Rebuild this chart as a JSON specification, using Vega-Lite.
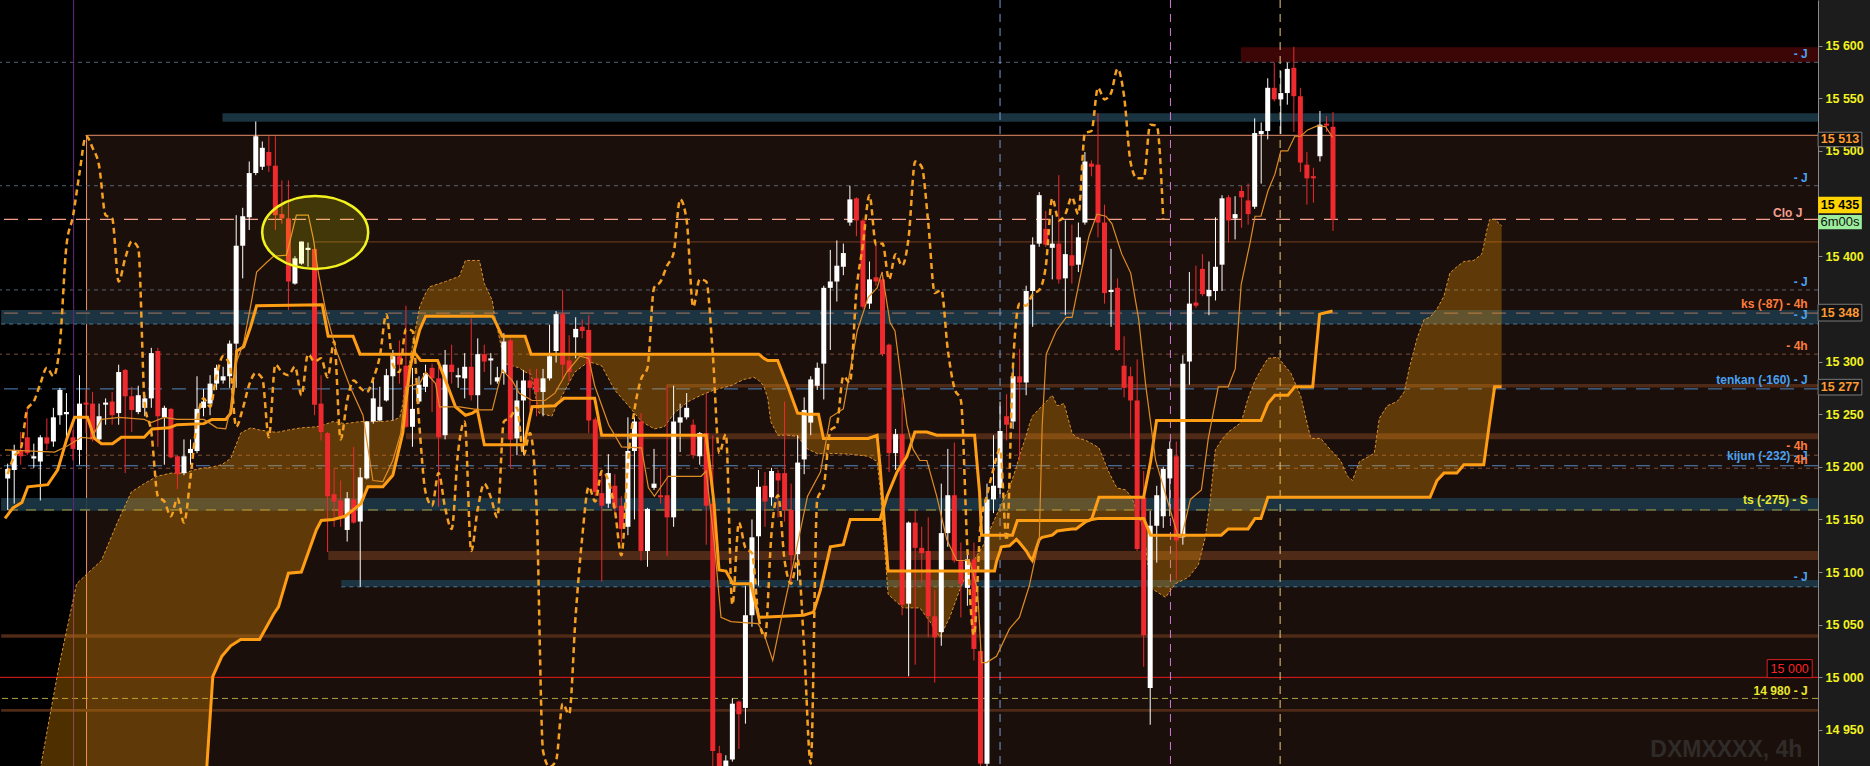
{
"$schema": "https://vega.github.io/schema/vega-lite/v6.json",
"width": 1818, "height": 766,
"autosize": {"type": "none"},
"padding": {"left": 0, "top": 0, "right": 52, "bottom": 0},
"background": "#1c1c1c",
"config": {"view": {"fill": "#000000", "stroke": null}},
"datasets": {
"candles": [
{"i":0,"o":15189,"h":15203,"l":15159,"c":15198},{"i":1,"o":15197,"h":15221,"l":15165,"c":15216},{"i":2,"o":15216,"h":15233,"l":15202,"c":15210},{"i":3,"o":15228,"h":15256,"l":15211,"c":15213},{"i":4,"o":15208,"h":15222,"l":15199,"c":15210},{"i":5,"o":15205,"h":15230,"l":15168,"c":15228},{"i":6,"o":15228,"h":15246,"l":15216,"c":15222},{"i":7,"o":15224,"h":15256,"l":15219,"c":15247},{"i":8,"o":15249,"h":15275,"l":15240,"c":15273},{"i":9,"o":15250,"h":15270,"l":15225,"c":15252},
{"i":10,"o":15228,"h":15235,"l":15206,"c":15217},{"i":11,"o":15216,"h":15287,"l":15202,"c":15260},{"i":12,"o":15261,"h":15273,"l":15232,"c":15259},{"i":13,"o":15260,"h":15271,"l":15224,"c":15226},{"i":14,"o":15226,"h":15260,"l":15224,"c":15248},{"i":15,"o":15259,"h":15265,"l":15240,"c":15261},{"i":16,"o":15262,"h":15271,"l":15240,"c":15249},{"i":17,"o":15251,"h":15297,"l":15240,"c":15290},{"i":18,"o":15292,"h":15293,"l":15194,"c":15267},{"i":19,"o":15267,"h":15276,"l":15233,"c":15254},
{"i":20,"o":15252,"h":15277,"l":15250,"c":15268},{"i":21,"o":15256,"h":15268,"l":15248,"c":15265},{"i":22,"o":15265,"h":15313,"l":15256,"c":15308},{"i":23,"o":15310,"h":15313,"l":15219,"c":15248},{"i":24,"o":15247,"h":15258,"l":15202,"c":15256},{"i":25,"o":15255,"h":15256,"l":15208,"c":15209},{"i":26,"o":15210,"h":15211,"l":15179,"c":15193},{"i":27,"o":15194,"h":15226,"l":15192,"c":15210},{"i":28,"o":15213,"h":15226,"l":15202,"c":15217},{"i":29,"o":15215,"h":15286,"l":15213,"c":15255},
{"i":30,"o":15256,"h":15274,"l":15248,"c":15262},{"i":31,"o":15260,"h":15287,"l":15249,"c":15279},{"i":32,"o":15279,"h":15297,"l":15273,"c":15294},{"i":33,"o":15282,"h":15295,"l":15279,"c":15286},{"i":34,"o":15286,"h":15320,"l":15275,"c":15317},{"i":35,"o":15317,"h":15439,"l":15275,"c":15410},{"i":36,"o":15410,"h":15446,"l":15379,"c":15438},{"i":37,"o":15437,"h":15490,"l":15425,"c":15479},{"i":38,"o":15479,"h":15528,"l":15477,"c":15514},{"i":39,"o":15485,"h":15509,"l":15482,"c":15503},
{"i":40,"o":15499,"h":15514,"l":15480,"c":15486},{"i":41,"o":15486,"h":15514,"l":15425,"c":15439},{"i":42,"o":15440,"h":15472,"l":15431,"c":15436},{"i":43,"o":15436,"h":15472,"l":15349,"c":15376},{"i":44,"o":15374,"h":15400,"l":15373,"c":15398},{"i":45,"o":15393,"h":15414,"l":15392,"c":15414},{"i":46,"o":15406,"h":15413,"l":15390,"c":15408},{"i":47,"o":15407,"h":15412,"l":15249,"c":15259},{"i":48,"o":15260,"h":15287,"l":15225,"c":15233},{"i":49,"o":15232,"h":15233,"l":15119,"c":15172},
{"i":50,"o":15174,"h":15198,"l":15143,"c":15167},{"i":51,"o":15168,"h":15187,"l":15143,"c":15153},{"i":52,"o":15140,"h":15176,"l":15129,"c":15170},{"i":53,"o":15169,"h":15219,"l":15146,"c":15147},{"i":54,"o":15148,"h":15199,"l":15086,"c":15190},{"i":55,"o":15189,"h":15243,"l":15188,"c":15243},{"i":56,"o":15243,"h":15282,"l":15241,"c":15265},{"i":57,"o":15244,"h":15276,"l":15243,"c":15257},{"i":58,"o":15263,"h":15293,"l":15262,"c":15287},{"i":59,"o":15286,"h":15311,"l":15244,"c":15305},
{"i":60,"o":15305,"h":15320,"l":15279,"c":15297},{"i":61,"o":15296,"h":15353,"l":15237,"c":15238},{"i":62,"o":15238,"h":15294,"l":15219,"c":15255},{"i":63,"o":15262,"h":15286,"l":15260,"c":15278},{"i":64,"o":15276,"h":15297,"l":15271,"c":15289},{"i":65,"o":15294,"h":15298,"l":15252,"c":15284},{"i":66,"o":15284,"h":15295,"l":15162,"c":15228},{"i":67,"o":15230,"h":15311,"l":15226,"c":15297},{"i":68,"o":15297,"h":15316,"l":15279,"c":15290},{"i":69,"o":15285,"h":15294,"l":15275,"c":15287},
{"i":70,"o":15284,"h":15308,"l":15265,"c":15295},{"i":71,"o":15295,"h":15341,"l":15263,"c":15268},{"i":72,"o":15268,"h":15322,"l":15251,"c":15307},{"i":73,"o":15307,"h":15316,"l":15290,"c":15300},{"i":74,"o":15301,"h":15308,"l":15278,"c":15303},{"i":75,"o":15281,"h":15295,"l":15279,"c":15285},{"i":76,"o":15289,"h":15327,"l":15278,"c":15319},{"i":77,"o":15320,"h":15322,"l":15199,"c":15226},{"i":78,"o":15227,"h":15282,"l":15211,"c":15263},{"i":79,"o":15263,"h":15292,"l":15211,"c":15282},
{"i":80,"o":15282,"h":15293,"l":15254,"c":15275},{"i":81,"o":15284,"h":15293,"l":15248,"c":15271},{"i":82,"o":15271,"h":15293,"l":15248,"c":15284},{"i":83,"o":15284,"h":15335,"l":15282,"c":15305},{"i":84,"o":15310,"h":15348,"l":15299,"c":15345},{"i":85,"o":15345,"h":15368,"l":15284,"c":15297},{"i":86,"o":15301,"h":15325,"l":15281,"c":15290},{"i":87,"o":15323,"h":15342,"l":15303,"c":15331},{"i":88,"o":15333,"h":15340,"l":15322,"c":15329},{"i":89,"o":15330,"h":15344,"l":15232,"c":15244},
{"i":90,"o":15245,"h":15247,"l":15172,"c":15176},{"i":91,"o":15175,"h":15196,"l":15091,"c":15163},{"i":92,"o":15165,"h":15212,"l":15161,"c":15194},{"i":93,"o":15182,"h":15193,"l":15156,"c":15161},{"i":94,"o":15163,"h":15172,"l":15128,"c":15141},{"i":95,"o":15143,"h":15247,"l":15135,"c":15215},{"i":96,"o":15215,"h":15247,"l":15150,"c":15243},{"i":97,"o":15243,"h":15251,"l":15111,"c":15120},{"i":98,"o":15120,"h":15161,"l":15105,"c":15160},{"i":99,"o":15180,"h":15217,"l":15178,"c":15184},
{"i":100,"o":15173,"h":15199,"l":15165,"c":15171},{"i":101,"o":15173,"h":15277,"l":15115,"c":15152},{"i":102,"o":15152,"h":15277,"l":15143,"c":15243},{"i":103,"o":15242,"h":15260,"l":15214,"c":15247},{"i":104,"o":15247,"h":15270,"l":15245,"c":15256},{"i":105,"o":15240,"h":15245,"l":15208,"c":15211},{"i":106,"o":15210,"h":15233,"l":15202,"c":15232},{"i":107,"o":15232,"h":15270,"l":15126,"c":15163},{"i":108,"o":15165,"h":15230,"l":14905,"c":14930},{"i":109,"o":14928,"h":14935,"l":14900,"c":14915},
{"i":110,"o":14912,"h":14926,"l":14900,"c":14921},{"i":111,"o":14922,"h":14980,"l":14920,"c":14975},{"i":112,"o":14977,"h":14978,"l":14932,"c":14965},{"i":113,"o":14971,"h":15087,"l":14956,"c":15059},{"i":114,"o":15059,"h":15150,"l":15048,"c":15133},{"i":115,"o":15134,"h":15197,"l":15087,"c":15181},{"i":116,"o":15182,"h":15195,"l":15143,"c":15167},{"i":117,"o":15171,"h":15199,"l":15163,"c":15196},{"i":118,"o":15194,"h":15197,"l":15152,"c":15187},{"i":119,"o":15194,"h":15262,"l":15148,"c":15159},
{"i":120,"o":15159,"h":15184,"l":15090,"c":15116},{"i":121,"o":15117,"h":15230,"l":15092,"c":15204},{"i":122,"o":15207,"h":15266,"l":15193,"c":15254},{"i":123,"o":15242,"h":15286,"l":15230,"c":15283},{"i":124,"o":15277,"h":15299,"l":15273,"c":15294},{"i":125,"o":15298,"h":15372,"l":15264,"c":15370},{"i":126,"o":15370,"h":15406,"l":15311,"c":15376},{"i":127,"o":15376,"h":15415,"l":15357,"c":15391},{"i":128,"o":15390,"h":15412,"l":15382,"c":15403},{"i":129,"o":15432,"h":15467,"l":15429,"c":15454},
{"i":130,"o":15455,"h":15456,"l":15419,"c":15434},{"i":131,"o":15434,"h":15436,"l":15350,"c":15352},{"i":132,"o":15355,"h":15395,"l":15350,"c":15378},{"i":133,"o":15380,"h":15411,"l":15372,"c":15376},{"i":134,"o":15378,"h":15385,"l":15305,"c":15307},{"i":135,"o":15316,"h":15317,"l":15195,"c":15213},{"i":136,"o":15213,"h":15236,"l":15197,"c":15231},{"i":137,"o":15231,"h":15266,"l":15059,"c":15069},{"i":138,"o":15070,"h":15148,"l":15001,"c":15147},{"i":139,"o":15147,"h":15158,"l":15012,"c":15123},
{"i":140,"o":15123,"h":15143,"l":15090,"c":15118},{"i":141,"o":15120,"h":15152,"l":15038,"c":15058},{"i":142,"o":15058,"h":15083,"l":14995,"c":15038},{"i":143,"o":15043,"h":15184,"l":15030,"c":15137},{"i":144,"o":15137,"h":15217,"l":15124,"c":15173},{"i":145,"o":15173,"h":15223,"l":15109,"c":15111},{"i":146,"o":15111,"h":15128,"l":15057,"c":15089},{"i":147,"o":15085,"h":15117,"l":15068,"c":15112},{"i":148,"o":15112,"h":15128,"l":15016,"c":15027},{"i":149,"o":15025,"h":15030,"l":14900,"c":14918},
{"i":150,"o":14918,"h":15184,"l":14900,"c":15169},{"i":151,"o":15169,"h":15230,"l":15156,"c":15182},{"i":152,"o":15180,"h":15262,"l":15174,"c":15234},{"i":153,"o":15248,"h":15269,"l":15225,"c":15240},{"i":154,"o":15243,"h":15299,"l":15236,"c":15286},{"i":155,"o":15286,"h":15312,"l":15206,"c":15280},{"i":156,"o":15280,"h":15372,"l":15268,"c":15367},{"i":157,"o":15367,"h":15418,"l":15333,"c":15411},{"i":158,"o":15412,"h":15461,"l":15409,"c":15458},{"i":159,"o":15426,"h":15443,"l":15409,"c":15411},
{"i":160,"o":15408,"h":15439,"l":15378,"c":15412},{"i":161,"o":15412,"h":15477,"l":15374,"c":15378},{"i":162,"o":15379,"h":15434,"l":15344,"c":15402},{"i":163,"o":15401,"h":15430,"l":15374,"c":15391},{"i":164,"o":15392,"h":15432,"l":15385,"c":15418},{"i":165,"o":15432,"h":15499,"l":15430,"c":15490},{"i":166,"o":15488,"h":15491,"l":15476,"c":15485},{"i":167,"o":15487,"h":15536,"l":15418,"c":15432},{"i":168,"o":15432,"h":15449,"l":15355,"c":15365},{"i":169,"o":15366,"h":15407,"l":15333,"c":15368},
{"i":170,"o":15370,"h":15379,"l":15310,"c":15311},{"i":171,"o":15296,"h":15324,"l":15266,"c":15275},{"i":172,"o":15286,"h":15295,"l":15227,"c":15263},{"i":173,"o":15263,"h":15302,"l":15120,"c":15122},{"i":174,"o":15171,"h":15196,"l":15010,"c":15040},{"i":175,"o":14990,"h":15158,"l":14955,"c":15144},{"i":176,"o":15144,"h":15182,"l":15109,"c":15173},{"i":177,"o":15153,"h":15200,"l":15142,"c":15198},{"i":178,"o":15189,"h":15224,"l":15153,"c":15217},{"i":179,"o":15210,"h":15224,"l":15093,"c":15130},
{"i":180,"o":15133,"h":15306,"l":15126,"c":15298},{"i":181,"o":15300,"h":15385,"l":15278,"c":15355},{"i":182,"o":15356,"h":15391,"l":15351,"c":15353},{"i":183,"o":15388,"h":15402,"l":15362,"c":15364},{"i":184,"o":15362,"h":15395,"l":15344,"c":15368},{"i":185,"o":15367,"h":15437,"l":15358,"c":15390},{"i":186,"o":15392,"h":15458,"l":15367,"c":15455},{"i":187,"o":15456,"h":15458,"l":15413,"c":15434},{"i":188,"o":15436,"h":15457,"l":15416,"c":15440},{"i":189,"o":15462,"h":15467,"l":15427,"c":15456},
{"i":190,"o":15453,"h":15469,"l":15430,"c":15440},{"i":191,"o":15447,"h":15531,"l":15445,"c":15517},{"i":192,"o":15516,"h":15527,"l":15469,"c":15519},{"i":193,"o":15519,"h":15569,"l":15511,"c":15560},{"i":194,"o":15560,"h":15584,"l":15547,"c":15549},{"i":195,"o":15549,"h":15576,"l":15516,"c":15555},{"i":196,"o":15555,"h":15584,"l":15544,"c":15578},{"i":197,"o":15579,"h":15599,"l":15518,"c":15552},{"i":198,"o":15552,"h":15560,"l":15480,"c":15489},{"i":199,"o":15487,"h":15499,"l":15449,"c":15474},
{"i":200,"o":15476,"h":15484,"l":15451,"c":15474},{"i":201,"o":15495,"h":15538,"l":15490,"c":15525},{"i":202,"o":15526,"h":15533,"l":15518,"c":15524},{"i":203,"o":15523,"h":15537,"l":15424,"c":15435}
],
"chikou": [
{"i":0,"p":15193},{"i":1,"p":15210},{"i":2,"p":15217},{"i":3,"p":15255},{"i":4,"p":15262},{"i":5,"p":15279},{"i":6,"p":15294},{"i":7,"p":15286},{"i":8,"p":15317},{"i":9,"p":15410},{"i":10,"p":15438},{"i":11,"p":15479},{"i":12,"p":15514},{"i":13,"p":15503},{"i":14,"p":15486},{"i":15,"p":15439},{"i":16,"p":15436},{"i":17,"p":15376},{"i":18,"p":15398},{"i":19,"p":15414},{"i":20,"p":15408},{"i":21,"p":15259},{"i":22,"p":15233},{"i":23,"p":15172},{"i":24,"p":15167},{"i":25,"p":15153},{"i":26,"p":15170},{"i":27,"p":15147},{"i":28,"p":15190},{"i":29,"p":15243},{"i":30,"p":15265},{"i":31,"p":15257},{"i":32,"p":15287},{"i":33,"p":15305},{"i":34,"p":15297},{"i":35,"p":15238},{"i":36,"p":15255},{"i":37,"p":15278},{"i":38,"p":15289},{"i":39,"p":15284},{"i":40,"p":15228},{"i":41,"p":15297},{"i":42,"p":15290},{"i":43,"p":15287},{"i":44,"p":15295},{"i":45,"p":15268},{"i":46,"p":15307},{"i":47,"p":15300},{"i":48,"p":15303},{"i":49,"p":15285},{"i":50,"p":15319},{"i":51,"p":15226},{"i":52,"p":15263},{"i":53,"p":15282},{"i":54,"p":15275},{"i":55,"p":15271},{"i":56,"p":15284},{"i":57,"p":15305},{"i":58,"p":15345},{"i":59,"p":15297},{"i":60,"p":15290},{"i":61,"p":15331},{"i":62,"p":15329},{"i":63,"p":15244},{"i":64,"p":15176},{"i":65,"p":15163},{"i":66,"p":15194},{"i":67,"p":15161},{"i":68,"p":15141},{"i":69,"p":15215},{"i":70,"p":15243},{"i":71,"p":15120},{"i":72,"p":15160},{"i":73,"p":15184},{"i":74,"p":15171},{"i":75,"p":15152},{"i":76,"p":15243},{"i":77,"p":15247},{"i":78,"p":15256},{"i":79,"p":15211},{"i":80,"p":15232},{"i":81,"p":15163},{"i":82,"p":14930},{"i":83,"p":14915},{"i":84,"p":14921},{"i":85,"p":14975},{"i":86,"p":14965},{"i":87,"p":15059},{"i":88,"p":15133},{"i":89,"p":15181},{"i":90,"p":15167},{"i":91,"p":15196},{"i":92,"p":15187},{"i":93,"p":15159},{"i":94,"p":15116},{"i":95,"p":15204},{"i":96,"p":15254},{"i":97,"p":15283},{"i":98,"p":15294},{"i":99,"p":15370},{"i":100,"p":15376},{"i":101,"p":15391},{"i":102,"p":15403},{"i":103,"p":15454},{"i":104,"p":15434},{"i":105,"p":15352},{"i":106,"p":15378},{"i":107,"p":15376},{"i":108,"p":15307},{"i":109,"p":15213},{"i":110,"p":15231},{"i":111,"p":15069},{"i":112,"p":15147},{"i":113,"p":15123},{"i":114,"p":15118},{"i":115,"p":15058},{"i":116,"p":15038},{"i":117,"p":15137},{"i":118,"p":15173},{"i":119,"p":15111},{"i":120,"p":15089},{"i":121,"p":15112},{"i":122,"p":15027},{"i":123,"p":14918},{"i":124,"p":15169},{"i":125,"p":15182},{"i":126,"p":15234},{"i":127,"p":15240},{"i":128,"p":15286},{"i":129,"p":15280},{"i":130,"p":15367},{"i":131,"p":15411},{"i":132,"p":15458},{"i":133,"p":15411},{"i":134,"p":15412},{"i":135,"p":15378},{"i":136,"p":15402},{"i":137,"p":15391},{"i":138,"p":15418},{"i":139,"p":15490},{"i":140,"p":15485},{"i":141,"p":15432},{"i":142,"p":15365},{"i":143,"p":15368},{"i":144,"p":15311},{"i":145,"p":15275},{"i":146,"p":15263},{"i":147,"p":15122},{"i":148,"p":15040},{"i":149,"p":15144},{"i":150,"p":15173},{"i":151,"p":15198},{"i":152,"p":15217},{"i":153,"p":15130},{"i":154,"p":15298},{"i":155,"p":15355},{"i":156,"p":15353},{"i":157,"p":15364},{"i":158,"p":15368},{"i":159,"p":15390},{"i":160,"p":15455},{"i":161,"p":15434},{"i":162,"p":15440},{"i":163,"p":15456},{"i":164,"p":15440},{"i":165,"p":15517},{"i":166,"p":15519},{"i":167,"p":15560},{"i":168,"p":15549},{"i":169,"p":15555},{"i":170,"p":15578},{"i":171,"p":15552},{"i":172,"p":15489},{"i":173,"p":15474},{"i":174,"p":15474},{"i":175,"p":15525},{"i":176,"p":15524},{"i":177,"p":15435}
],
"kijun": [
{"i":-0.41,"p":15151},{"i":0.81,"p":15161},{"i":2.18,"p":15166},{"i":3.09,"p":15181},{"i":6.14,"p":15183},{"i":7.66,"p":15197},{"i":9.03,"p":15226},{"i":10.25,"p":15247},{"i":12.23,"p":15247},{"i":13.3,"p":15227},{"i":14.36,"p":15222},{"i":16.04,"p":15222},{"i":17.41,"p":15228},{"i":20.91,"p":15228},{"i":22.13,"p":15236},{"i":24.72,"p":15237},{"i":25.94,"p":15240},{"i":30.05,"p":15241},{"i":31.27,"p":15245},{"i":33.4,"p":15245},{"i":34.17,"p":15251},{"i":34.62,"p":15276},{"i":35.08,"p":15310},{"i":36.15,"p":15314},{"i":37.21,"p":15333},{"i":38.13,"p":15353},{"i":48.18,"p":15354},{"i":49.09,"p":15324},{"i":52.9,"p":15324},{"i":53.97,"p":15307},{"i":62.5,"p":15307},{"i":63.26,"p":15301},{"i":65.85,"p":15301},{"i":67.07,"p":15282},{"i":68.59,"p":15257},{"i":70.11,"p":15249},{"i":71.18,"p":15251},{"i":71.94,"p":15254},{"i":73.01,"p":15221},{"i":79.1,"p":15221},{"i":80.32,"p":15257},{"i":83.82,"p":15258},{"i":85.19,"p":15265},{"i":89.91,"p":15265},{"i":90.98,"p":15230},{"i":106.98,"p":15230},{"i":108.19,"p":15165},{"i":108.95,"p":15102},{"i":110.02,"p":15101},{"i":111.09,"p":15089},{"i":113.83,"p":15089},{"i":115.05,"p":15057},{"i":121.9,"p":15059},{"i":123.43,"p":15062},{"i":124.49,"p":15083},{"i":126.01,"p":15124},{"i":127.99,"p":15126},{"i":129.06,"p":15150},{"i":133.63,"p":15150},{"i":134.7,"p":15172},{"i":136.22,"p":15195},{"i":137.74,"p":15210},{"i":138.96,"p":15233},{"i":140.79,"p":15233},{"i":142.31,"p":15230},{"i":148.1,"p":15230},{"i":148.86,"p":15176},{"i":149.17,"p":15135},{"i":153.89,"p":15135},{"i":154.65,"p":15149},{"i":165.62,"p":15149},{"i":166.07,"p":15151},{"i":167.14,"p":15171},{"i":173.99,"p":15171},{"i":175.06,"p":15205},{"i":175.97,"p":15244},{"i":191.96,"p":15244},{"i":193.03,"p":15260},{"i":194.1,"p":15268},{"i":196.08,"p":15268},{"i":197.14,"p":15276},{"i":199.89,"p":15276},{"i":200.95,"p":15345},{"i":202.93,"p":15348}
],
"tenkan": [
{"i":-0.41,"p":15216},{"i":7.2,"p":15214},{"i":9.18,"p":15220},{"i":11.32,"p":15228},{"i":12.84,"p":15227},{"i":14.36,"p":15245},{"i":17.1,"p":15247},{"i":20.91,"p":15245},{"i":21.98,"p":15242},{"i":23.96,"p":15247},{"i":25.94,"p":15245},{"i":30.05,"p":15245},{"i":32.03,"p":15237},{"i":33.4,"p":15236},{"i":34.32,"p":15260},{"i":35.08,"p":15300},{"i":36.15,"p":15318},{"i":37.37,"p":15358},{"i":38.13,"p":15385},{"i":39.65,"p":15394},{"i":40.72,"p":15400},{"i":42.7,"p":15401},{"i":44.22,"p":15439},{"i":46.05,"p":15439},{"i":46.81,"p":15417},{"i":47.57,"p":15385},{"i":48.79,"p":15346},{"i":50.31,"p":15311},{"i":52.44,"p":15276},{"i":54.42,"p":15249},{"i":55.94,"p":15187},{"i":57.47,"p":15186},{"i":58.99,"p":15206},{"i":60.21,"p":15232},{"i":60.97,"p":15276},{"i":63.11,"p":15279},{"i":64.02,"p":15290},{"i":65.54,"p":15279},{"i":66.15,"p":15257},{"i":69.2,"p":15257},{"i":72.25,"p":15254},{"i":74.23,"p":15254},{"i":75.75,"p":15292},{"i":77.27,"p":15282},{"i":78.34,"p":15270},{"i":80.32,"p":15263},{"i":82.3,"p":15263},{"i":83.82,"p":15270},{"i":85.65,"p":15290},{"i":87.63,"p":15305},{"i":89.0,"p":15303},{"i":89.91,"p":15277},{"i":92.05,"p":15240},{"i":94.03,"p":15219},{"i":97.08,"p":15218},{"i":98.14,"p":15180},{"i":99.06,"p":15172},{"i":101.19,"p":15191},{"i":106.22,"p":15191},{"i":106.98,"p":15196},{"i":108.19,"p":15130},{"i":109.26,"p":15057},{"i":110.78,"p":15053},{"i":114.9,"p":15051},{"i":115.81,"p":15042},{"i":117.18,"p":15016},{"i":118.4,"p":15053},{"i":120.38,"p":15109},{"i":122.51,"p":15172},{"i":124.49,"p":15195},{"i":126.01,"p":15247},{"i":127.99,"p":15255},{"i":130.12,"p":15329},{"i":131.8,"p":15361},{"i":133.17,"p":15370},{"i":133.93,"p":15385},{"i":135.15,"p":15337},{"i":135.91,"p":15329},{"i":137.74,"p":15240},{"i":138.66,"p":15217},{"i":139.72,"p":15206},{"i":140.79,"p":15206},{"i":142.31,"p":15172},{"i":143.84,"p":15131},{"i":145.36,"p":15111},{"i":147.34,"p":15111},{"i":148.56,"p":15083},{"i":149.17,"p":15014},{"i":149.93,"p":15014},{"i":151.46,"p":15020},{"i":153.44,"p":15046},{"i":154.96,"p":15057},{"i":156.48,"p":15087},{"i":158.01,"p":15131},{"i":158.46,"p":15240},{"i":159.07,"p":15307},{"i":160.6,"p":15329},{"i":162.12,"p":15342},{"i":163.03,"p":15342},{"i":164.56,"p":15389},{"i":165.62,"p":15419},{"i":166.84,"p":15440},{"i":168.21,"p":15438},{"i":169.13,"p":15431},{"i":170.65,"p":15402},{"i":172.02,"p":15384},{"i":173.24,"p":15340},{"i":174.3,"p":15278},{"i":175.83,"p":15206},{"i":178.11,"p":15158},{"i":179.33,"p":15133},{"i":179.79,"p":15133},{"i":181.16,"p":15169},{"i":182.84,"p":15178},{"i":183.9,"p":15227},{"i":185.43,"p":15276},{"i":186.95,"p":15276},{"i":188.02,"p":15293},{"i":188.93,"p":15373},{"i":190.3,"p":15413},{"i":191.06,"p":15438},{"i":191.96,"p":15438},{"i":193.03,"p":15462},{"i":194.1,"p":15478},{"i":195.01,"p":15500},{"i":196.08,"p":15500},{"i":197.14,"p":15514},{"i":198.06,"p":15514},{"i":199.12,"p":15520},{"i":200.65,"p":15524},{"i":201.87,"p":15523},{"i":202.93,"p":15513}
],
"cloud": [
{"i":4.16,"a":14890,"b":14800},{"i":5.07,"a":14916,"b":14800},{"i":7.81,"a":15009,"b":14800},{"i":10.56,"a":15089,"b":14800},{"i":14.36,"a":15111,"b":14800},{"i":16.8,"a":15147,"b":14800},{"i":18.93,"a":15176,"b":14800},{"i":20.91,"a":15184,"b":14800},{"i":22.89,"a":15191,"b":14800},{"i":25.03,"a":15194,"b":14800},{"i":27.01,"a":15194,"b":14800},{"i":28.53,"a":15197,"b":14800},{"i":30.05,"a":15199,"b":14850},{"i":30.51,"a":15199,"b":14916},{"i":31.42,"a":15200,"b":15001},{"i":32.8,"a":15202,"b":15020},{"i":34.17,"a":15208,"b":15030},{"i":35.69,"a":15232,"b":15036},{"i":37.21,"a":15237,"b":15036},{"i":38.58,"a":15235,"b":15036},{"i":40.72,"a":15233,"b":15060},{"i":41.48,"a":15233,"b":15067},{"i":43.0,"a":15235,"b":15099},{"i":44.98,"a":15237,"b":15100},{"i":47.27,"a":15238,"b":15140},{"i":48.03,"a":15239,"b":15149},{"i":49.86,"a":15243,"b":15150},{"i":51.68,"a":15241,"b":15153},{"i":54.12,"a":15243,"b":15165},{"i":55.18,"a":15243,"b":15181},{"i":57.47,"a":15243,"b":15181},{"i":58.99,"a":15244,"b":15192},{"i":60.06,"a":15247,"b":15220},{"i":60.52,"a":15260,"b":15232},{"i":60.97,"a":15286,"b":15260},{"i":61.58,"a":15300,"b":15292},{"i":62.04,"a":15317,"b":15305},{"i":63.11,"a":15352,"b":15330},{"i":64.02,"a":15365,"b":15343},{"i":64.63,"a":15371,"b":15343},{"i":67.07,"a":15376,"b":15343},{"i":69.2,"a":15381,"b":15343},{"i":70.11,"a":15396,"b":15343},{"i":72.25,"a":15396,"b":15343},{"i":73.01,"a":15374,"b":15343},{"i":74.23,"a":15358,"b":15343},{"i":74.53,"a":15345,"b":15340},{"i":75.75,"a":15310,"b":15324},{"i":76.21,"a":15298,"b":15324},{"i":78.34,"a":15294,"b":15324},{"i":79.25,"a":15290,"b":15324},{"i":80.17,"a":15288,"b":15307},{"i":81.38,"a":15251,"b":15307},{"i":83.37,"a":15248,"b":15307},{"i":83.82,"a":15255,"b":15307},{"i":86.87,"a":15290,"b":15307},{"i":89.0,"a":15300,"b":15307},{"i":90.98,"a":15296,"b":15307},{"i":92.96,"a":15273,"b":15307},{"i":95.09,"a":15258,"b":15307},{"i":97.08,"a":15243,"b":15307},{"i":99.06,"a":15236,"b":15307},{"i":100.58,"a":15238,"b":15307},{"i":102.1,"a":15251,"b":15307},{"i":104.23,"a":15262,"b":15307},{"i":106.22,"a":15268,"b":15307},{"i":108.19,"a":15273,"b":15307},{"i":110.78,"a":15277,"b":15307},{"i":112.76,"a":15283,"b":15307},{"i":114.29,"a":15285,"b":15307},{"i":115.05,"a":15282,"b":15307},{"i":115.81,"a":15277,"b":15303},{"i":116.42,"a":15265,"b":15301},{"i":116.88,"a":15243,"b":15301},{"i":117.94,"a":15230,"b":15301},{"i":119.47,"a":15230,"b":15277},{"i":120.99,"a":15229,"b":15251},{"i":122.51,"a":15217,"b":15250},{"i":124.19,"a":15212,"b":15250},{"i":124.95,"a":15213,"b":15227},{"i":129.06,"a":15212,"b":15227},{"i":131.8,"a":15210,"b":15227},{"i":133.17,"a":15205,"b":15230},{"i":133.63,"a":15180,"b":15200},{"i":134.85,"a":15079,"b":15101},{"i":137.14,"a":15066,"b":15101},{"i":139.72,"a":15066,"b":15101},{"i":141.25,"a":15053,"b":15101},{"i":142.77,"a":15038,"b":15101},{"i":144.29,"a":15057,"b":15101},{"i":145.82,"a":15083,"b":15101},{"i":147.34,"a":15105,"b":15101},{"i":149.32,"a":15124,"b":15101},{"i":151.15,"a":15150,"b":15101},{"i":151.46,"a":15154,"b":15110},{"i":152.22,"a":15165,"b":15124},{"i":153.44,"a":15180,"b":15125},{"i":154.51,"a":15200,"b":15131},{"i":154.96,"a":15210,"b":15128},{"i":156.03,"a":15230,"b":15120},{"i":156.48,"a":15240,"b":15115},{"i":156.94,"a":15248,"b":15111},{"i":158.01,"a":15255,"b":15131},{"i":158.46,"a":15258,"b":15133},{"i":159.99,"a":15268,"b":15135},{"i":160.75,"a":15258,"b":15139},{"i":161.81,"a":15260,"b":15140},{"i":163.03,"a":15232,"b":15141},{"i":163.64,"a":15228,"b":15141},{"i":165.16,"a":15225,"b":15148},{"i":166.07,"a":15222,"b":15150},{"i":167.14,"a":15218,"b":15151},{"i":168.66,"a":15195,"b":15151},{"i":169.88,"a":15180,"b":15151},{"i":171.25,"a":15178,"b":15151},{"i":172.17,"a":15171,"b":15151},{"i":174.0,"a":15140,"b":15151},{"i":175.06,"a":15085,"b":15135},{"i":177.35,"a":15076,"b":15135},{"i":178.87,"a":15089,"b":15135},{"i":180.85,"a":15095,"b":15135},{"i":182.38,"a":15107,"b":15135},{"i":183.44,"a":15133,"b":15135},{"i":184.2,"a":15169,"b":15135},{"i":184.97,"a":15216,"b":15135},{"i":185.88,"a":15225,"b":15135},{"i":186.95,"a":15233,"b":15141},{"i":188.93,"a":15242,"b":15141},{"i":189.99,"a":15265,"b":15141},{"i":191.06,"a":15282,"b":15151},{"i":191.96,"a":15292,"b":15151},{"i":193.03,"a":15303,"b":15171},{"i":194.56,"a":15304,"b":15171},{"i":196.54,"a":15289,"b":15171},{"i":198.06,"a":15267,"b":15171},{"i":199.58,"a":15227,"b":15171},{"i":201.11,"a":15227,"b":15171},{"i":202.63,"a":15216,"b":15171},{"i":204.15,"a":15206,"b":15171},{"i":205.22,"a":15191,"b":15171},{"i":205.98,"a":15187,"b":15171},{"i":207.05,"a":15205,"b":15171},{"i":208.26,"a":15209,"b":15171},{"i":209.33,"a":15213,"b":15171},{"i":210.09,"a":15246,"b":15171},{"i":211.31,"a":15258,"b":15171},{"i":212.83,"a":15262,"b":15171},{"i":213.9,"a":15271,"b":15171},{"i":214.66,"a":15293,"b":15171},{"i":215.88,"a":15322,"b":15171},{"i":216.95,"a":15340,"b":15171},{"i":217.86,"a":15342,"b":15171},{"i":218.93,"a":15350,"b":15187},{"i":219.99,"a":15362,"b":15194},{"i":220.9,"a":15384,"b":15194},{"i":221.97,"a":15390,"b":15194},{"i":223.04,"a":15395,"b":15202},{"i":224.56,"a":15396,"b":15202},{"i":225.78,"a":15402,"b":15202},{"i":226.09,"a":15410,"b":15202},{"i":226.54,"a":15424,"b":15222},{"i":227.0,"a":15435,"b":15243},{"i":227.76,"a":15435,"b":15276},{"i":228.83,"a":15429,"b":15276}
]
},
"layer": [
{"data": {"values": [{"x0": 12.08, "x1": 285, "p1": 15514.9, "p0": 14880}]},
 "mark": {"type": "rect", "fill": "#1b0f0b", "stroke": "#e8906a", "strokeWidth": 1, "clip": true},
 "encoding": {
  "x": {"field": "x0", "type": "quantitative", "scale": {"domain": [-0.411, 276.52], "nice": false, "zero": false}, "axis": null},
  "x2": {"field": "x1"},
  "y": {"field": "p1", "type": "quantitative", "scale": {"domain": [14915.8, 15643.4], "nice": false, "zero": false},
        "axis": {"orient": "right", "title": null, "grid": false, "values": [14950,15000,15050,15100,15150,15200,15250,15300,15400,15500,15550,15600],
                 "labelExpr": "replace(format(datum.value, ','), ',', ' ')", "labelColor": "#f2f21e", "labelFont": "Liberation Sans", "labelFontSize": 12.5, "labelFontWeight": "bold",
                 "tickColor": "#8a8a8a", "domainColor": "#8a8a8a", "tickSize": 4, "labelPadding": 3, "labelOverlap": false, "labelBound": false, "labelBaseline": "middle", "zindex": 0}},
  "y2": {"field": "p0"}}},
{"data": {"values": [{"x0": 188.9, "p1": 15598.5, "p2": 15584.2}]},
 "mark": {"type": "rect", "fill": "#3c0506", "clip": true},
 "encoding": {"x": {"field": "x0", "type": "quantitative", "axis": null}, "x2": {"datum": 285}, "y": {"field": "p1", "type": "quantitative", "title": null}, "y2": {"field": "p2"}}},
{"data": {"values": [{"x0": 32.9, "p1": 15535.8, "p2": 15527.8}, {"x0": -1, "p1": 15349, "p2": 15335.7}, {"x0": -1, "p1": 15170.4, "p2": 15158.3}, {"x0": 51.1, "p1": 15092.5, "p2": 15086.1}]},
 "mark": {"type": "rect", "fill": "#1d3847", "opacity": 0.9, "clip": true},
 "encoding": {"x": {"field": "x0", "type": "quantitative", "axis": null}, "x2": {"datum": 285}, "y": {"field": "p1", "type": "quantitative", "title": null}, "y2": {"field": "p2"}}},
{"data": {"values": [{"x0": 100.9, "p1": 15278.6, "p2": 15275.3}, {"x0": 61, "p1": 15231.8, "p2": 15226.1}, {"x0": 49.1, "p1": 15120, "p2": 15111.5}, {"x0": -1, "p1": 15040.9, "p2": 15037.7}, {"x0": -1, "p1": 14970, "p2": 14967.4}, {"x0": 46.8, "p1": 15414.6, "p2": 15412.8}]},
 "mark": {"type": "rect", "fill": "#4e2a17", "clip": true},
 "encoding": {"x": {"field": "x0", "type": "quantitative", "axis": null}, "x2": {"datum": 285}, "y": {"field": "p1", "type": "quantitative", "title": null}, "y2": {"field": "p2"}}},
{"data": {"values": [{"p": 15584.2}, {"p": 15467}, {"p": 15368}]},
 "mark": {"type": "rule", "color": "#536472", "strokeWidth": 1, "strokeDash": [4, 4]},
 "encoding": {"y": {"field": "p", "type": "quantitative", "title": null}}},
{"data": {"values": [{"p": 15435}]},
 "mark": {"type": "rule", "color": "#f2a08c", "strokeWidth": 1.2, "strokeDash": [14, 10]},
 "encoding": {"y": {"field": "p", "type": "quantitative", "title": null}}},
{"data": {"values": [{"p": 15346}]},
 "mark": {"type": "rule", "color": "#a87262", "strokeWidth": 1, "strokeDash": [14, 10]},
 "encoding": {"y": {"field": "p", "type": "quantitative", "title": null}}},
{"data": {"values": [{"p": 15335.6, "x0": -1}, {"p": 15086, "x0": 51.1}]},
 "mark": {"type": "rule", "color": "#4f7896", "strokeWidth": 1, "strokeDash": [4, 4], "clip": true},
 "encoding": {"x": {"field": "x0", "type": "quantitative", "axis": null}, "x2": {"datum": 285}, "y": {"field": "p", "type": "quantitative", "title": null}}},
{"data": {"values": [{"p": 15307}, {"p": 15211}, {"p": 15198.6}]},
 "mark": {"type": "rule", "color": "#7c4e38", "strokeWidth": 1, "strokeDash": [4, 4]},
 "encoding": {"y": {"field": "p", "type": "quantitative", "title": null}}},
{"data": {"values": [{"p": 15274}, {"p": 15201}]},
 "mark": {"type": "rule", "color": "#5288c2", "strokeWidth": 1, "strokeDash": [14, 10]},
 "encoding": {"y": {"field": "p", "type": "quantitative", "title": null}}},
{"data": {"values": [{"p": 15159}]},
 "mark": {"type": "rule", "color": "#aca442", "strokeWidth": 1, "strokeDash": [10, 8]},
 "encoding": {"y": {"field": "p", "type": "quantitative", "title": null}}},
{"data": {"values": [{"p": 14980}]},
 "mark": {"type": "rule", "color": "#b0a444", "strokeWidth": 1, "strokeDash": [6, 4]},
 "encoding": {"y": {"field": "p", "type": "quantitative", "title": null}}},
{"data": {"values": [{"p": 15000}]},
 "mark": {"type": "rule", "color": "#e81c1c", "strokeWidth": 1},
 "encoding": {"y": {"field": "p", "type": "quantitative", "title": null}}},
{"data": {"values": [{"i": 10.1}]},
 "mark": {"type": "rule", "color": "#6a2580", "strokeWidth": 1},
 "encoding": {"x": {"field": "i", "type": "quantitative", "axis": null}}},
{"data": {"values": [{"i": 152.0}]},
 "mark": {"type": "rule", "color": "#7c9ad4", "strokeWidth": 1, "strokeDash": [8, 6]},
 "encoding": {"x": {"field": "i", "type": "quantitative", "axis": null}}},
{"data": {"values": [{"i": 178.1}]},
 "mark": {"type": "rule", "color": "#d47ad8", "strokeWidth": 1, "strokeDash": [8, 6]},
 "encoding": {"x": {"field": "i", "type": "quantitative", "axis": null}}},
{"data": {"values": [{"i": 194.9}]},
 "mark": {"type": "rule", "color": "#ecc87c", "strokeWidth": 1, "strokeDash": [8, 6]},
 "encoding": {"x": {"field": "i", "type": "quantitative", "axis": null}}},
{"data": {"name": "cloud"},
 "mark": {"type": "area", "color": "#ff9a00", "opacity": 0.3, "clip": true},
 "encoding": {"x": {"field": "i", "type": "quantitative", "axis": null}, "y": {"field": "a", "type": "quantitative", "title": null}, "y2": {"field": "b"}}},
{"data": {"name": "cloud"},
 "mark": {"type": "line", "color": "#d89030", "strokeWidth": 1, "strokeDash": [3, 2], "clip": true},
 "encoding": {"x": {"field": "i", "type": "quantitative", "axis": null}, "y": {"field": "a", "type": "quantitative", "title": null}}},
{"data": {"name": "candles"},
 "mark": {"type": "rule", "strokeWidth": 1, "clip": true},
 "encoding": {"x": {"field": "i", "type": "quantitative", "axis": null}, "y": {"field": "l", "type": "quantitative", "title": null}, "y2": {"field": "h"},
  "color": {"condition": {"test": "datum.c >= datum.o", "value": "#ffffff"}, "value": "#ee2a2e"}}},
{"data": {"name": "candles"},
 "mark": {"type": "bar", "size": 5, "clip": true},
 "encoding": {"x": {"field": "i", "type": "quantitative", "axis": null}, "y": {"field": "o", "type": "quantitative", "title": null}, "y2": {"field": "c"},
  "color": {"condition": {"test": "datum.c >= datum.o", "value": "#ffffff"}, "value": "#ee2a2e"}}},
{"data": {"name": "cloud"},
 "mark": {"type": "line", "color": "#ff9d14", "strokeWidth": 3, "clip": true},
 "encoding": {"x": {"field": "i", "type": "quantitative", "axis": null}, "y": {"field": "b", "type": "quantitative", "title": null}}},
{"data": {"name": "kijun"},
 "mark": {"type": "line", "color": "#ff9d14", "strokeWidth": 3, "clip": true},
 "encoding": {"x": {"field": "i", "type": "quantitative", "axis": null}, "y": {"field": "p", "type": "quantitative", "title": null}}},
{"data": {"name": "tenkan"},
 "mark": {"type": "line", "color": "#de8c26", "strokeWidth": 1.2, "clip": true},
 "encoding": {"x": {"field": "i", "type": "quantitative", "axis": null}, "y": {"field": "p", "type": "quantitative", "title": null}}},
{"data": {"name": "chikou"},
 "mark": {"type": "line", "color": "#f5a020", "strokeWidth": 2.5, "strokeDash": [6, 4], "interpolate": "monotone", "clip": true},
 "encoding": {"x": {"field": "i", "type": "quantitative", "axis": null}, "y": {"field": "p", "type": "quantitative", "title": null}}},
{"data": {"values": [{"i": 47.1, "p": 15422.6}]},
 "mark": {"type": "point", "shape": "M -1 0 A 1 0.689 0 1 1 1 0 A 1 0.689 0 1 1 -1 0 Z", "size": 11236, "filled": true, "fill": "#ffff00", "fillOpacity": 0.17, "stroke": "#f2f21e", "strokeWidth": 2.5, "strokeOpacity": 1, "opacity": 1},
 "encoding": {"x": {"field": "i", "type": "quantitative", "axis": null}, "y": {"field": "p", "type": "quantitative", "title": null}}},
{"data": {"values": [{"i": 275.7, "p": 15591.8, "t": "- J"}, {"i": 275.7, "p": 15474.6, "t": "- J"}, {"i": 275.7, "p": 15375.8, "t": "- J"}, {"i": 275.7, "p": 15344, "t": "- J"}, {"i": 275.7, "p": 15282.5, "t": "tenkan (-160) - J"}, {"i": 275.7, "p": 15210.3, "t": "kijun (-232) - J"}, {"i": 275.7, "p": 15095.7, "t": "- J"}]},
 "mark": {"type": "text", "align": "right", "baseline": "middle", "font": "Liberation Sans", "fontSize": 12, "fontWeight": "bold", "color": "#48a2f2"},
 "encoding": {"x": {"field": "i", "type": "quantitative", "axis": null}, "y": {"field": "p", "type": "quantitative", "title": null}, "text": {"field": "t"}}},
{"data": {"values": [{"i": 275.7, "p": 15354.4, "t": "ks (-87) - 4h"}, {"i": 275.7, "p": 15315, "t": "- 4h"}, {"i": 275.7, "p": 15220, "t": "- 4h"}, {"i": 275.7, "p": 15206.5, "t": "4h"}]},
 "mark": {"type": "text", "align": "right", "baseline": "middle", "font": "Liberation Sans", "fontSize": 12, "fontWeight": "bold", "color": "#ff7d3c"},
 "encoding": {"x": {"field": "i", "type": "quantitative", "axis": null}, "y": {"field": "p", "type": "quantitative", "title": null}, "text": {"field": "t"}}},
{"data": {"values": [{"i": 275.7, "p": 15168, "t": "ts (-275) - S"}, {"i": 275.7, "p": 14986.7, "t": "14 980 - J"}]},
 "mark": {"type": "text", "align": "right", "baseline": "middle", "font": "Liberation Sans", "fontSize": 12, "fontWeight": "bold", "color": "#e8e82c"},
 "encoding": {"x": {"field": "i", "type": "quantitative", "axis": null}, "y": {"field": "p", "type": "quantitative", "title": null}, "text": {"field": "t"}}},
{"data": {"values": [{"i": 274.9, "p": 15440.8, "t": "Clo J"}]},
 "mark": {"type": "text", "align": "right", "baseline": "middle", "font": "Liberation Sans", "fontSize": 12, "fontWeight": "bold", "color": "#f4a090"},
 "encoding": {"x": {"field": "i", "type": "quantitative", "axis": null}, "y": {"field": "p", "type": "quantitative", "title": null}, "text": {"field": "t"}}},
{"data": {"values": [{"i": 274.9, "p": 14931, "t": "DXMXXXX, 4h"}]},
 "mark": {"type": "text", "align": "right", "baseline": "middle", "font": "Liberation Sans", "fontSize": 23, "fontWeight": "bold", "color": "#2f2b29"},
 "encoding": {"x": {"field": "i", "type": "quantitative", "axis": null}, "y": {"field": "p", "type": "quantitative", "title": null}, "text": {"field": "t"}}},
{"data": {"values": [{"x0": 269.5, "x1": 276.4, "p1": 15016.8, "p2": 14999.7}]},
 "mark": {"type": "rect", "fill": "#000000", "stroke": "#e02020", "strokeWidth": 1},
 "encoding": {"x": {"field": "x0", "type": "quantitative", "axis": null}, "x2": {"field": "x1"}, "y": {"field": "p1", "type": "quantitative", "title": null}, "y2": {"field": "p2"}}},
{"data": {"values": [{"i": 272.95, "p": 15008.3, "t": "15 000"}]},
 "mark": {"type": "text", "align": "center", "baseline": "middle", "font": "Liberation Sans", "fontSize": 12.5, "color": "#ff2424"},
 "encoding": {"x": {"field": "i", "type": "quantitative", "axis": null}, "y": {"field": "p", "type": "quantitative", "title": null}, "text": {"field": "t"}}},
{"data": {"values": [{"x0": 277.3, "x1": 284.0, "p1": 15517.8, "p2": 15504.1}, {"x0": 277.3, "x1": 284.0, "p1": 15354.4, "p2": 15338.5}, {"x0": 277.3, "x1": 284.0, "p1": 15283.1, "p2": 15268.2}]},
 "mark": {"type": "rect", "fill": "#121212", "stroke": "#7a7a7a", "strokeWidth": 1},
 "encoding": {"x": {"field": "x0", "type": "quantitative", "axis": null}, "x2": {"field": "x1"}, "y": {"field": "p1", "type": "quantitative", "title": null}, "y2": {"field": "p2"}}},
{"data": {"values": [{"i": 280.65, "p": 15511, "t": "15 513"}, {"i": 280.65, "p": 15346.5, "t": "15 348"}, {"i": 280.65, "p": 15275.7, "t": "15 277"}]},
 "mark": {"type": "text", "align": "center", "baseline": "middle", "font": "Liberation Sans", "fontSize": 12.5, "fontWeight": "bold", "color": "#ff9a30"},
 "encoding": {"x": {"field": "i", "type": "quantitative", "axis": null}, "y": {"field": "p", "type": "quantitative", "title": null}, "text": {"field": "t"}}},
{"data": {"values": [{"x0": 277.3, "x1": 284.0, "p1": 15456.6, "p2": 15440.8}]},
 "mark": {"type": "rect", "fill": "#ffd400"},
 "encoding": {"x": {"field": "x0", "type": "quantitative", "axis": null}, "x2": {"field": "x1"}, "y": {"field": "p1", "type": "quantitative", "title": null}, "y2": {"field": "p2"}}},
{"data": {"values": [{"x0": 277.3, "x1": 284.0, "p1": 15439.2, "p2": 15425.6}]},
 "mark": {"type": "rect", "fill": "#9cee9c"},
 "encoding": {"x": {"field": "x0", "type": "quantitative", "axis": null}, "x2": {"field": "x1"}, "y": {"field": "p1", "type": "quantitative", "title": null}, "y2": {"field": "p2"}}},
{"data": {"values": [{"i": 280.65, "p": 15448.7, "t": "15 435"}]},
 "mark": {"type": "text", "align": "center", "baseline": "middle", "font": "Liberation Sans", "fontSize": 12.5, "fontWeight": "bold", "color": "#000000"},
 "encoding": {"x": {"field": "i", "type": "quantitative", "axis": null}, "y": {"field": "p", "type": "quantitative", "title": null}, "text": {"field": "t"}}},
{"data": {"values": [{"i": 280.65, "p": 15432.4, "t": "6m00s"}]},
 "mark": {"type": "text", "align": "center", "baseline": "middle", "font": "Liberation Sans", "fontSize": 13, "color": "#101010"},
 "encoding": {"x": {"field": "i", "type": "quantitative", "axis": null}, "y": {"field": "p", "type": "quantitative", "title": null}, "text": {"field": "t"}}}
]
}
